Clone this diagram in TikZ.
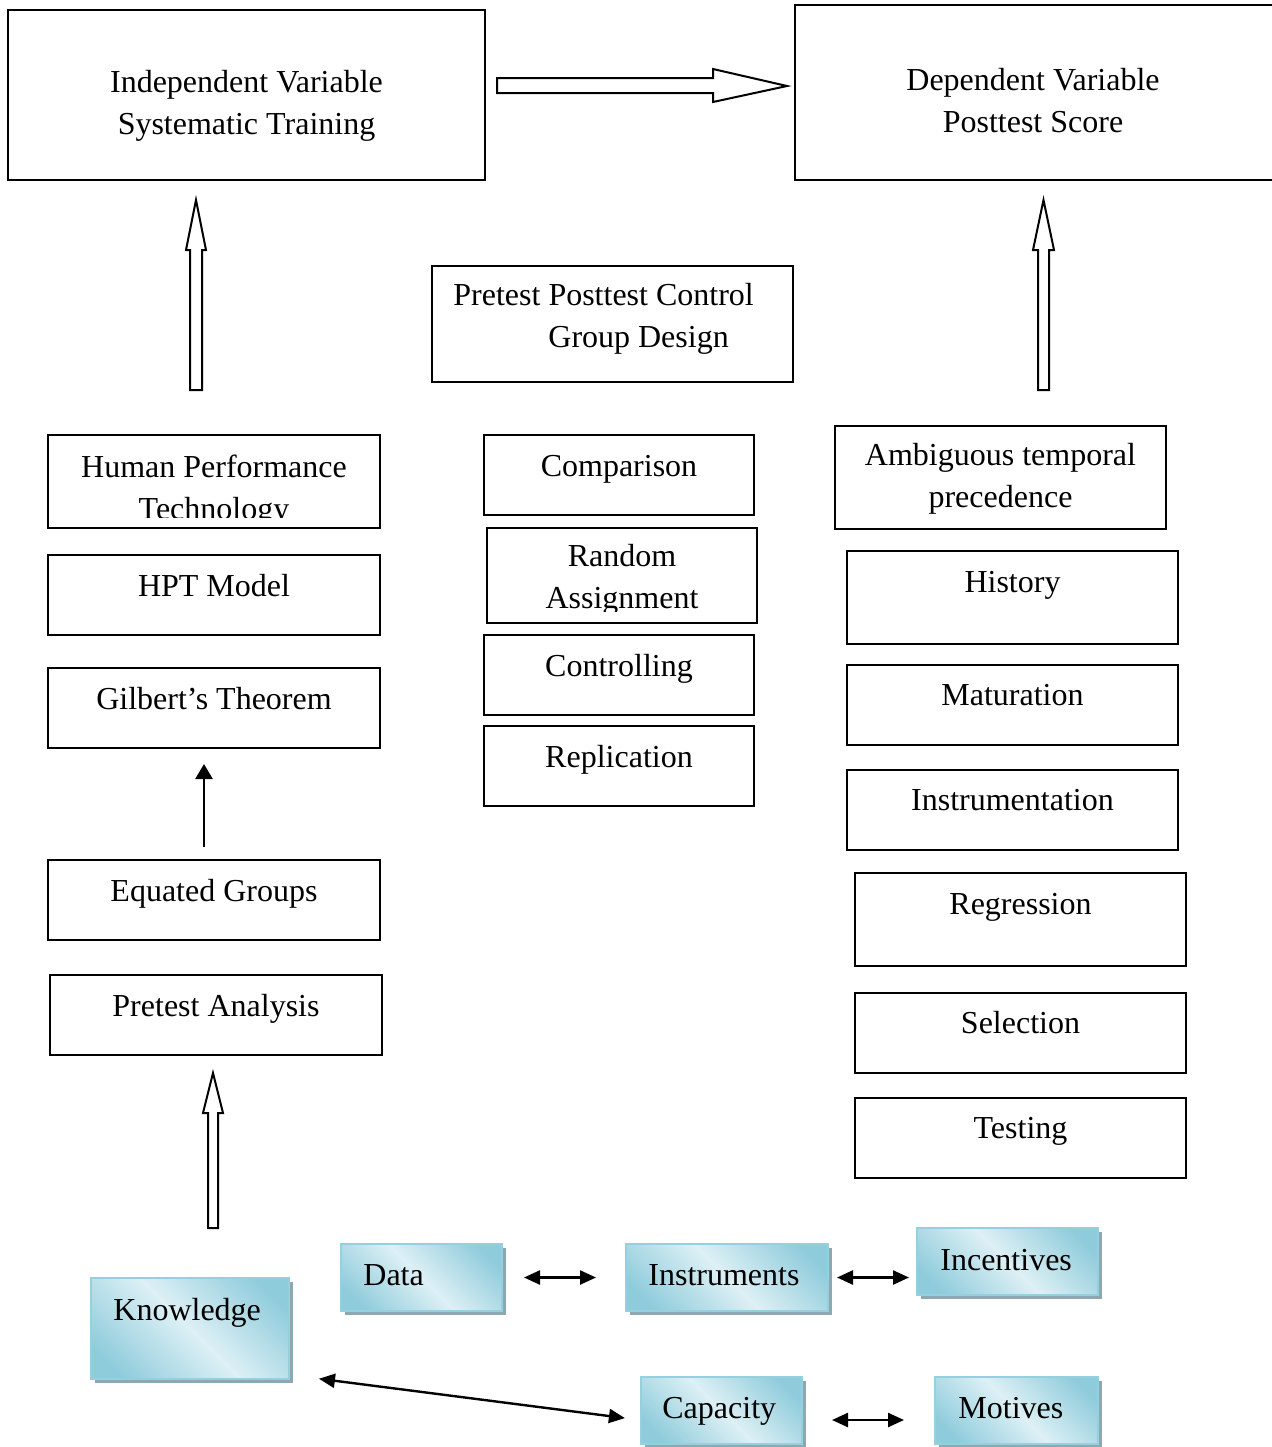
\documentclass[tikz,border=0pt]{standalone}
\usepackage{fontspec}
\setmainfont{Liberation Serif}
\usetikzlibrary{fit,arrows.meta,shadows}

\definecolor{aquaD}{HTML}{8ECBDB}
\definecolor{aquaL}{HTML}{DDF0F5}
\definecolor{aquaEdge}{HTML}{96CFDE}
\definecolor{aquaShadow}{HTML}{8EA8B2}
% diagonal band: dark corners, pale middle
\pgfdeclarehorizontalshading{aquaband}{100bp}{color(0bp)=(aquaD); color(22bp)=(aquaD); color(50bp)=(aquaL); color(78bp)=(aquaD); color(100bp)=(aquaD)}

\newcommand\twolines[2]{\begin{tabular}[t]{@{}c@{}}#1\\#2\end{tabular}}

\begin{document}
\begin{tikzpicture}[x=0.5pt,y=-0.5pt,
  font=\fontsize{16}{21.3}\selectfont,
  box/.style={draw,line width=1pt,inner sep=0pt},
  aquabox/.style={draw=aquaEdge,line width=1pt,inner sep=0pt,
    shading=aquaband,shading angle=45,
    general shadow={fill=aquaShadow,shadow xshift=2pt,shadow yshift=-2pt}},
  txt/.style={anchor=base,inner sep=0pt},
  ltxt/.style={anchor=base west,inner sep=0pt},
  hollow/.style={draw,line width=1pt,fill=white,line join=miter},
  dbl/.style={{Triangle[length=8pt,width=7pt]}-{Triangle[length=8pt,width=7pt]},line width=1.2pt},
  sgl/.style={-{Triangle[length=7.5pt,width=8.5pt]},line width=1.3pt}]

\useasboundingbox (0,0) rectangle (1271,1447);

% top: variables
\node[box,fit={(8,10) (485,180)}] (iv) {};
\node[txt] (ivt) at (246.5,92) {\twolines{Independent Variable}{Systematic Training}};
\node[box,fit={(795,5) (1274,180)}] (dv) {};
\node[txt] (dvt) at (1033,90) {\twolines{Dependent Variable}{Posttest Score}};
\draw[hollow] (497,78) -- (713,78) -- (713,69) -- (787,86) -- (713,102) -- (713,93) -- (497,93) -- cycle;

% block arrows up
\draw[hollow] (190,390) -- (190,250) -- (186,250) -- (196,200) -- (206,250) -- (202,250) -- (202,390) -- cycle;
\draw[hollow] (1038,390) -- (1038,250) -- (1033,250) -- (1043.5,200) -- (1054,250) -- (1049,250) -- (1049,390) -- cycle;
\draw[hollow] (208,1228) -- (208,1113) -- (203,1113) -- (213,1073) -- (223,1113) -- (218,1113) -- (218,1228) -- cycle;

% design
\node[box,fit={(432,266) (793,382)}] (design) {};
\node[ltxt] (designt) at (453,305) {\begin{tabular}[t]{@{}l@{}}Pretest Posttest Control\\\hspace*{47.5pt}Group Design\end{tabular}};

% left column
\node[box,fit={(48,435) (380,528)}] (hpt) {};
\begin{scope}
  \clip (48,435) rectangle (380,517);
  \node[txt] (hptt) at (214,477) {\twolines{Human Performance}{Technology}};
\end{scope}
\node[box,fit={(48,555) (380,635)}] (hptm) {};
\node[txt] (hptmt) at (214,596) {HPT Model};
\node[box,fit={(48,668) (380,748)}] (gilbert) {};
\node[txt] (gilbertt) at (214,709) {Gilbert’s Theorem};
\node[box,fit={(48,860) (380,940)}] (equated) {};
\node[txt] (equatedt) at (214,901) {Equated Groups};
\node[box,fit={(50,975) (382,1055)}] (ptan) {};
\node[txt] (ptant) at (216,1016) {Pretest Analysis};
\draw[sgl,shorten <=6pt,shorten >=7.5pt] ([xshift=-5pt]equated.north) -- ([xshift=-5pt]gilbert.south);

% middle column
\node[box,fit={(484,435) (754,515)}] (comparison) {};
\node[txt] (comparisont) at (619,476) {Comparison};
\node[box,fit={(487,528) (757,623)}] (random) {};
\begin{scope}
  \clip (487,528) rectangle (757,611);
  \node[txt] (randomt) at (622,566) {\twolines{Random}{Assignment}};
\end{scope}
\node[box,fit={(484,635) (754,715)}] (controlling) {};
\node[txt] (controllingt) at (619,676) {Controlling};
\node[box,fit={(484,726) (754,806)}] (replication) {};
\node[txt] (replicationt) at (619,767) {Replication};

% right column
\node[box,fit={(835,426) (1166,529)}] (ambig) {};
\node[txt] (ambigt) at (1000.5,465) {\twolines{Ambiguous temporal}{precedence}};
\node[box,fit={(847,551) (1178,644)}] (history) {};
\node[txt] (historyt) at (1012.5,592) {History};
\node[box,fit={(847,665) (1178,745)}] (maturation) {};
\node[txt] (maturationt) at (1012.5,705) {Maturation};
\node[box,fit={(847,770) (1178,850)}] (instrumentation) {};
\node[txt] (instrumentationt) at (1012.5,810) {Instrumentation};
\node[box,fit={(855,873) (1186,966)}] (regression) {};
\node[txt] (regressiont) at (1020.5,914) {Regression};
\node[box,fit={(855,993) (1186,1073)}] (selection) {};
\node[txt] (selectiont) at (1020.5,1033) {Selection};
\node[box,fit={(855,1098) (1186,1178)}] (testing) {};
\node[txt] (testingt) at (1020.5,1138) {Testing};

% bottom: shaded boxes
\node[aquabox,fit={(91,1278) (289,1379)}] (knowledge) {};
\node[ltxt] (knowledget) at (113,1320) {Knowledge};
\node[aquabox,fit={(341,1244) (502,1311)}] (data) {};
\node[ltxt] (datat) at (363,1285) {Data};
\node[aquabox,fit={(626,1244) (828,1311)}] (instruments) {};
\node[ltxt] (instrumentst) at (648,1285) {Instruments};
\node[aquabox,fit={(917,1228) (1098,1295)}] (incentives) {};
\node[ltxt] (incentivest) at (940,1270) {Incentives};
\node[aquabox,fit={(641,1377) (802,1444)}] (capacity) {};
\node[ltxt] (capacityt) at (662,1418) {Capacity};
\node[aquabox,fit={(935,1377) (1098,1444)}] (motives) {};
\node[ltxt] (motivest) at (958,1418) {Motives};

\draw[dbl,shorten <=10.5pt,shorten >=14.5pt] (data.east) -- (instruments.west);
\draw[dbl,shorten <=4pt,shorten >=3.5pt] (instruments.east) -- (instruments.east -| incentives.west);
\draw[dbl,shorten <=14.5pt,shorten >=15pt] ([yshift=-4.75pt]capacity.east) -- ([yshift=-4.75pt]capacity.east -| motives.west);
\draw[dbl,shorten <=14.6pt,shorten >=7.6pt] ([yshift=2.5pt]knowledge.south east) -- ([yshift=-4.75pt]capacity.west);

\end{tikzpicture}
\end{document}
